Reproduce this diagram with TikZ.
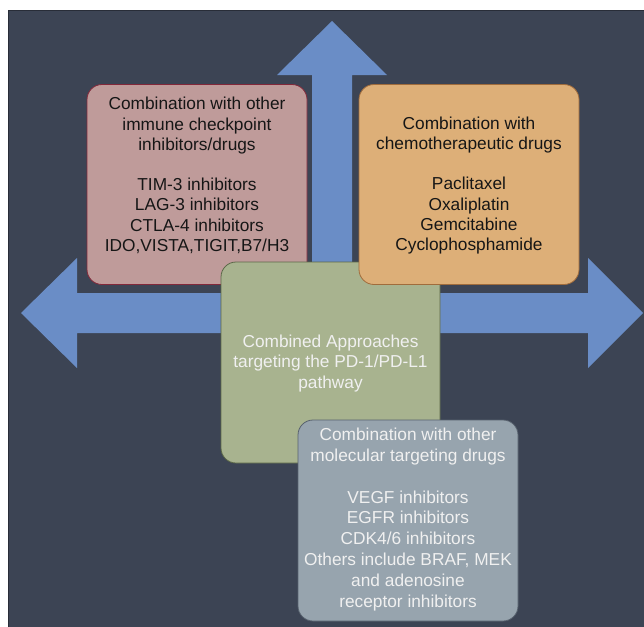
\documentclass[tikz,border=0pt]{standalone}
\usepackage{fontspec}
\setmainfont{Liberation Sans}
\usepackage{xcolor}

\definecolor{slate}{RGB}{60,68,84}
\definecolor{slateedge}{RGB}{40,45,56}
\definecolor{arrowblue}{RGB}{106,141,198}
\definecolor{pinkfill}{RGB}{191,155,154}
\definecolor{pinkedge}{RGB}{130,40,58}
\definecolor{orangefill}{RGB}{221,175,120}
\definecolor{orangeedge}{RGB}{160,108,60}
\definecolor{greenfill}{RGB}{168,179,143}
\definecolor{greenedge}{RGB}{92,104,72}
\definecolor{grayfill}{RGB}{151,164,174}
\definecolor{grayedge}{RGB}{88,98,110}
\definecolor{darkink}{RGB}{22,22,22}
\definecolor{lightink}{RGB}{240,240,240}

\begin{document}
\begin{tikzpicture}[x=1pt, y=-1pt,
  box/.style={rounded corners=15pt, line width=0.8pt, inner sep=0pt,
    minimum width=220pt, minimum height=200pt},
  darktext/.style={align=center, text=darkink, font=\fontsize{17.3}{20.2}\selectfont},
  lighttext/.style={align=center, text=lightink, font=\fontsize{17.3}{20.8}\selectfont}]
\useasboundingbox (0,0) rectangle (644,626);
\filldraw[fill=slate, draw=slateedge, line width=1pt] (8.5,10.5) rectangle (645,627);

% the three blue arrows
\fill[arrowblue] (21,313) -- (77,258) -- (77,293) -- (312,293) -- (312,75)
  -- (277,75) -- (332,21) -- (387,75) -- (352,75) -- (352,293) -- (588,293)
  -- (588,258) -- (643,313) -- (588,368) -- (588,333) -- (77,333) -- (77,368) -- cycle;

% boxes
\node[box, fill=pinkfill, draw=pinkedge] (immune) at (197,184.5) {};
\node[darktext] (immunetext) at (197,175.5) {Combination with other\\immune checkpoint\\inhibitors/drugs\\[20.2pt]
  TIM-3 inhibitors\\LAG-3 inhibitors\\CTLA-4 inhibitors\\IDO,VISTA,TIGIT,B7/H3};

\node[box, fill=greenfill, draw=greenedge, minimum width=219pt, minimum height=201pt] (pdone) at (330.5,362.5) {};
\node[lighttext] (pdonetext) at (330.5,363.5) {Combined Approaches\\targeting the PD-1/PD-L1\\pathway};

\node[box, fill=orangefill, draw=orangeedge] (chemo) at (469,184.5) {};
\node[darktext] (chemotext) at (469,185.5) {Combination with\\chemotherapeutic drugs\\[20.2pt]
  Paclitaxel\\Oxaliplatin\\Gemcitabine\\Cyclophosphamide};

\node[box, fill=grayfill, draw=grayedge, minimum height=201pt] (molec) at (408,520.5) {};
\node[lighttext] (molectext) at (408,519.5) {Combination with other\\molecular targeting drugs\\[20.8pt]
  VEGF inhibitors\\EGFR inhibitors\\CDK4/6 inhibitors\\Others include BRAF, MEK\\and adenosine\\receptor inhibitors};

\end{tikzpicture}
\end{document}
